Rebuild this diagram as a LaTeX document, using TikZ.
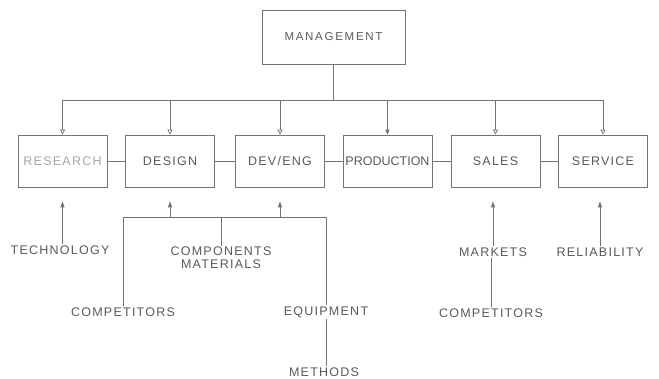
\documentclass[tikz,border=0pt]{standalone}
\usepackage{fontspec}
\newfontfamily\chartfont[LetterSpace=10]{Liberation Sans}
\newfontfamily\headfont[LetterSpace=15]{Liberation Sans}
\newfontfamily\tightfont{Liberation Sans}
\usetikzlibrary{arrows.meta}

\begin{document}
\begin{tikzpicture}[x=1pt, y=-1pt, line width=0.7pt, color=black!55, text=black!65,
  font=\chartfont\fontsize{12.5}{13}\selectfont]
\tikzset{
  box/.style={
    draw, rectangle,
    minimum width=89pt, minimum height=52pt,
    inner sep=1pt, align=center
  },
  input/.style={inner sep=1pt, align=center},
  drop/.style={-{Triangle[open, length=5pt, width=5pt]}},
  feed/.style={-{Triangle[length=6pt, width=4pt]}, shorten >=14pt}
}
\useasboundingbox (0,0) rectangle (659,379);

% Nodes
\node[box, font=\headfont\fontsize{11.5}{12}\selectfont, minimum width=143pt, minimum height=54pt] (mgmt) at (333.5,37) {MANAGEMENT};
\node[box, text=black!35] (research)   at (62.5,161)  {RESEARCH};
\node[box]                (design)     at (170,161)   {DESIGN};
\node[box]                (deveng)     at (280,161)   {DEV/ENG};
\node[box, font=\tightfont\fontsize{12.5}{13}\selectfont] (production) at (387.5,161) {PRODUCTION};
\node[box]                (sales)      at (495.5,161) {SALES};
\node[box]                (service)    at (603,161)   {SERVICE};

% Outside influences
\node[input] (technology)   at (60,250)  {TECHNOLOGY};
\node[input] (components)   at (221,258) {COMPONENTS\\MATERIALS};
\node[input] (competitorsA) at (123,312) {COMPETITORS};
\node[input] (equipment)    at (326,312) {EQUIPMENT};
\node[input] (methods)      at (324,372) {METHODS};
\node[input] (markets)      at (493,252) {MARKETS};
\node[input] (competitorsB) at (491,313) {COMPETITORS};
\node[input] (reliability)  at (600,252) {RELIABILITY};

% Management bus
\coordinate (bus) at (333.5,100);
\draw (mgmt.south) -- (bus);
\draw (research.north |- bus) -- (service.north |- bus);
\foreach \n in {research,design,deveng,sales,service}
  \draw[drop] (\n.north |- bus) -- (\n.north);
\draw[-{Triangle[length=5pt, width=4pt]}] (production.north |- bus) -- (production.north);

% Links along the row
\foreach \a/\b in {research/design,design/deveng,deveng/production,production/sales,sales/service}
  \draw (\a) -- (\b);

% Inputs from below
\coordinate (ibus) at (0,217);
\draw[feed] (research.south |- technology.north) -- (research.south);
\draw (competitorsA.north) |- (equipment.north |- ibus) -- (equipment.north);
\draw (components.north) -- (components.north |- ibus);
\draw[feed] (design.south |- ibus) -- (design.south);
\draw[feed] (deveng.south |- ibus) -- (deveng.south);
\draw (equipment.south) -- (equipment.south |- methods.north);
\draw[feed] (markets.north) -- (markets.north |- sales.south);
\draw (competitorsB.north) -- (competitorsB.north |- markets.south);
\draw[feed] (reliability.north) -- (reliability.north |- service.south);

\end{tikzpicture}
\end{document}
